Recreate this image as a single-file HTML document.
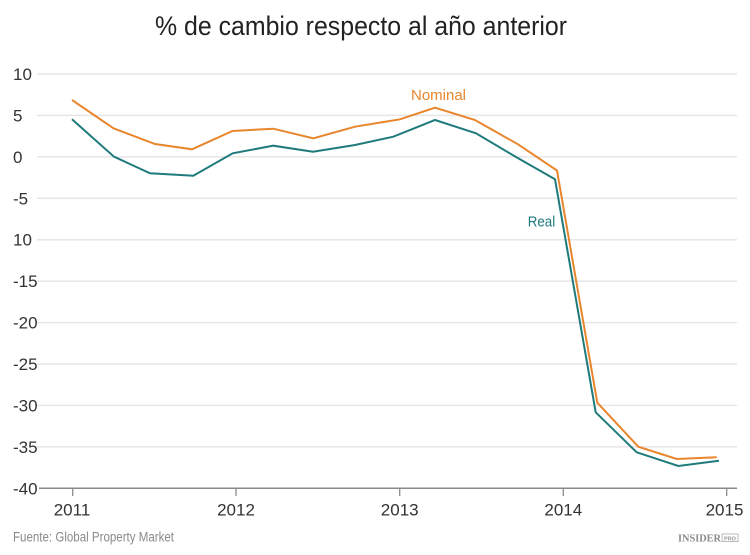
<!DOCTYPE html>
<html>
<head>
<meta charset="utf-8">
<style>
html,body{margin:0;padding:0;background:#fff;}
svg{display:block;}
text{font-family:"Liberation Sans",sans-serif;}
</style>
</head>
<body>
<svg width="750" height="555" viewBox="0 0 750 555" xmlns="http://www.w3.org/2000/svg">
<rect width="750" height="555" fill="#fff"/>
<text x="361" y="35" font-size="27" fill="#222" text-anchor="middle" textLength="412" lengthAdjust="spacingAndGlyphs">% de cambio respecto al año anterior</text>
<g stroke="#e6e6e6" stroke-width="1.5">
<line x1="37" y1="74" x2="737" y2="74"/>
<line x1="37" y1="115.4" x2="737" y2="115.4"/>
<line x1="37" y1="156.9" x2="737" y2="156.9"/>
<line x1="37" y1="198.3" x2="737" y2="198.3"/>
<line x1="37" y1="239.7" x2="737" y2="239.7"/>
<line x1="37" y1="281.1" x2="737" y2="281.1"/>
<line x1="37" y1="322.6" x2="737" y2="322.6"/>
<line x1="37" y1="364" x2="737" y2="364"/>
<line x1="37" y1="405.4" x2="737" y2="405.4"/>
<line x1="37" y1="446.9" x2="737" y2="446.9"/>
</g>
<line x1="39" y1="488.3" x2="737" y2="488.3" stroke="#8a8a8a" stroke-width="1.5"/>
<g stroke="#8a8a8a" stroke-width="1.3">
<line x1="72.7" y1="488" x2="72.7" y2="496"/>
<line x1="236" y1="488" x2="236" y2="496"/>
<line x1="399.7" y1="488" x2="399.7" y2="496"/>
<line x1="563.3" y1="488" x2="563.3" y2="496"/>
<line x1="726.7" y1="488" x2="726.7" y2="496"/>
</g>
<g font-size="17" fill="#333">
<text x="13" y="80">10</text>
<text x="13" y="121.4">5</text>
<text x="13" y="162.9">0</text>
<text x="13" y="204.3">-5</text>
<text x="13" y="245.7">10</text>
<text x="13" y="287.1">-15</text>
<text x="13" y="328.6">-20</text>
<text x="13" y="370">-25</text>
<text x="13" y="411.4">-30</text>
<text x="13" y="452.9">-35</text>
<text x="13" y="494.3">-40</text>
</g>
<g font-size="17" fill="#333" text-anchor="middle">
<text x="72" y="515.5">2011</text>
<text x="236" y="515.5">2012</text>
<text x="399.7" y="515.5">2013</text>
<text x="563.3" y="515.5">2014</text>
<text x="724.5" y="515.5">2015</text>
</g>
<polyline fill="none" stroke="#1f7a7c" stroke-width="2" stroke-linejoin="miter" points="72,119.3 114,156.7 150,173.3 193.3,175.7 232.7,153.3 273.3,145.7 313,151.7 355,145 393.3,136.7 435,120 476,133.3 516,157 555,179.3 595.7,412.3 636.7,452.3 678.3,466 719,460.7"/>
<polyline fill="none" stroke="#e8862e" stroke-width="2" stroke-linejoin="miter" points="72,100 113.5,128.3 155,144 192,149.3 232.5,131 273.3,128.7 313.3,138.3 355,126.7 400,119.3 435,107.7 475,120 518,144.3 557,170.5 597.3,402.7 638.3,446.7 676.7,459 716.7,457.3"/>
<text x="411" y="100" font-size="15" fill="#e8862e" textLength="55" lengthAdjust="spacingAndGlyphs">Nominal</text>
<text x="527.7" y="226.7" font-size="15" fill="#1f7a7c" textLength="27.5" lengthAdjust="spacingAndGlyphs">Real</text>
<text x="13" y="541.5" font-size="13.5" fill="#8a8a8a" textLength="161" lengthAdjust="spacingAndGlyphs">Fuente: Global Property Market</text>
<text x="678" y="541.5" font-size="10.5" font-weight="bold" fill="#8a8a8a" font-family="Liberation Serif, serif" style="font-family:'Liberation Serif',serif" textLength="43" lengthAdjust="spacingAndGlyphs">INSIDER</text>
<rect x="722" y="534" width="16" height="7.5" fill="none" stroke="#aaa" stroke-width="0.8"/>
<text x="730" y="540.3" font-size="5.5" fill="#999" text-anchor="middle" font-weight="bold">PRO</text>
</svg>
</body>
</html>
